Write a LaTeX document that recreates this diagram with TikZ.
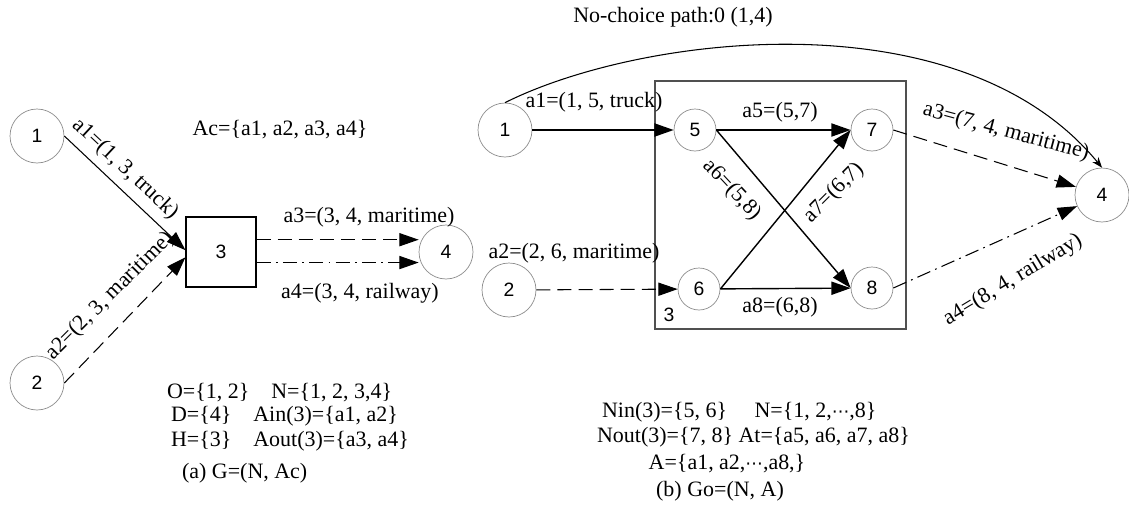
\documentclass[tikz,border=0pt]{standalone}
\usepackage{fontspec}
\setmainfont{Liberation Serif}
\newfontfamily\numfont{Liberation Sans}
\newfontfamily\dotsfont{DejaVu Sans}
\usetikzlibrary{positioning,arrows.meta}
\definecolor{circgray}{HTML}{8C8C8C}
\definecolor{boxgray}{HTML}{505050}
\newcommand{\cdotsb}{{\dotsfont\fontsize{10}{12}\selectfont ⋯}}

\begin{document}
\begin{tikzpicture}[x=0.02cm,y=-0.02cm,
  bigc/.style={draw=circgray,circle,minimum size=1.08cm,inner sep=0pt,font=\numfont\fontsize{11}{13}\selectfont},
  smallc/.style={draw=circgray,circle,minimum size=0.84cm,inner sep=0pt,font=\numfont\fontsize{11}{13}\selectfont},
  lbl/.style={font=\fontsize{12.5}{14}\selectfont,inner sep=1pt},
  arr/.style={-{Triangle[length=11pt,width=7.5pt]},line width=0.6pt},
  dsh/.style={dash pattern=on 8pt off 4pt},
  dshdot/.style={dash pattern=on 8pt off 3pt on 1pt off 3pt}]
\useasboundingbox (0,0) rectangle (1129,508);
% (a) G=(N, Ac)
\node[bigc] (L1) at (37,136) {1};
\node[bigc] (L2) at (37,383) {2};
\node[draw,line width=0.6pt,minimum size=1.4cm,font=\numfont\fontsize{11}{13}\selectfont] (L3) at (221,252) {3};
\node[bigc] (L4) at (446,252) {4};
\draw[arr] (L1.east) -- ([yshift=1pt]L3.west);
\draw[arr,dsh] (L2.east) -- ([yshift=-3pt]L3.west);
\draw[arr,dsh] ([yshift=7pt]L3.east) -- ([yshift=7pt]L4.west);
\draw[arr,dshdot] ([yshift=-6pt]L3.east) -- ([yshift=-6pt]L4.west);
\node[lbl,rotate=-43] (la1) at (125,169) {a1=(1, 3, truck)};
\node[lbl,rotate=45] (la2) at (110,296) {a2=(2, 3, maritime)};
\node[lbl] (lac) at (280,130) {Ac=\{a1, a2, a3, a4\}};
\node[lbl] (la3) at (369,217) {a3=(3, 4, maritime)};
\node[lbl] (la4) at (360,293) {a4=(3, 4, railway)};
\node[lbl,anchor=west] (lo) at (165,393) {O=\{1, 2\}\quad N=\{1, 2, 3,4\}};
\node[lbl,anchor=west] (ld) at (169,416) {D=\{4\}\quad Ain(3)=\{a1, a2\}};
\node[lbl,anchor=west] (lh) at (169,441) {H=\{3\}\quad Aout(3)=\{a3, a4\}};
\node[lbl,anchor=west] (lcap) at (180,473) {(a) G=(N, Ac)};
% (b) Go=(N, A)
\node[draw=boxgray,line width=0.8pt,minimum width=5.02cm,minimum height=4.96cm] (R3box) at (780.5,205) {};
\node[font=\numfont\fontsize{11}{13}\selectfont] (R3) at (669,315) {3};
\node[bigc] (R1) at (505,130) {1};
\node[bigc] (R2) at (509,290) {2};
\node[smallc] (R5) at (695,130) {5};
\node[smallc] (R7) at (872,130) {7};
\node[smallc] (R6) at (699,289) {6};
\node[smallc] (R8) at (872,288) {8};
\node[bigc] (R4) at (1102,195) {4};
\draw[arr,line width=1pt] (R1) -- (R5);
\draw[arr,dsh] (R2) -- (R6);
\draw[arr,line width=0.8pt] (R5) -- (R7);
\draw[arr,line width=0.8pt] (R5.east) -- (R8.west);
\draw[arr,line width=0.8pt] (R6.east) -- (R7.west);
\draw[arr,line width=0.8pt] (R6) -- (R8);
\draw[arr,dsh] (R7.east) -- (R4);
\draw[arr,dshdot] (R8.east) -- (R4);
\draw[-{Stealth[length=6pt]},line width=0.6pt] (R1.north) .. controls (640,35) and (960,-5) .. (R4.north);
\node[lbl] (ttl) at (673,17) {No-choice path:0 (1,4)};
\node[lbl] (ra1) at (594,102) {a1=(1, 5, truck)};
\node[lbl] (ra2) at (574,253) {a2=(2, 6, maritime)};
\node[lbl] (ra5) at (780,112) {a5=(5,7)};
\node[lbl] (ra8) at (780,307) {a8=(6,8)};
\node[lbl,rotate=-47] (ra6) at (732,190) {a6=(5,8)};
\node[lbl,rotate=45] (ra7) at (834,193) {a7=(6,7)};
\node[lbl,rotate=-15] (ra3) at (1006,132) {a3=(7, 4, maritime)};
\node[lbl,rotate=31] (ra4) at (1013,280) {a4=(8, 4, railway)};
\node[lbl,anchor=west] (rnin) at (600,412) {Nin(3)=\{5, 6\}\quad\ N=\{1, 2,\cdotsb,8\}};
\node[lbl,anchor=west] (rnout) at (595,437) {Nout(3)=\{7, 8\}\ At=\{a5, a6, a7, a8\}};
\node[lbl] (rA) at (727,464) {A=\{a1, a2,\cdotsb,a8,\}};
\node[lbl] (rcap) at (720,491) {(b) Go=(N, A)};
\end{tikzpicture}
\end{document}
